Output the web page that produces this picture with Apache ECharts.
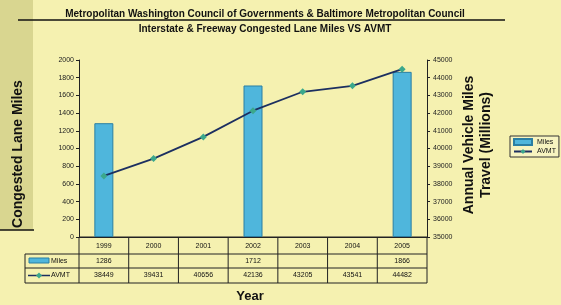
<!DOCTYPE html>
<html>
<head>
<meta charset="utf-8">
<script src="https://cdn.jsdelivr.net/npm/echarts@6/dist/echarts.min.js"></script>
<style>
  html, body { margin: 0; padding: 0; background: #f5f1b0; }
  #main { width: 561px; height: 305px; }
</style>
</head>
<body>
<div id="main"></div>
<script>
// data
var years = ['1999', '2000', '2001', '2002', '2003', '2004', '2005'];
var miles = [1286, null, null, 1712, null, null, 1866];
var avmt = [38449, 39431, 40656, 42136, 43205, 43541, 44482];

var FONT = '"Liberation Sans", Arial, sans-serif';
var GL = 79, GR = 427, GT = 60, GB = 237;

var chart = echarts.init(document.getElementById('main'));

var option = {
    backgroundColor: '#f5f1b0',
    animation: false,
    textStyle: { fontFamily: FONT },
    legend: {
        orient: 'vertical',
        left: 510, top: 136,
        padding: [2, 3],
        itemGap: 2,
        itemWidth: 18, itemHeight: 6,
        borderColor: '#333', borderWidth: 1,
        backgroundColor: '#f7f4c0',
        textStyle: { fontSize: 7, color: '#111', fontFamily: FONT },
        data: [
            { name: 'Miles', icon: 'rect' },
            { name: 'AVMT' }
        ]
    },
    grid: { left: GL, right: 561 - GR, top: GT, bottom: 305 - GB },
    xAxis: {
        type: 'category',
        data: years,
        axisLine: { lineStyle: { color: '#222' } },
        axisTick: { show: false },
        axisLabel: { show: false }
    },
    yAxis: [{
        type: 'value', min: 0, max: 2000, interval: 200,
        axisLine: { show: true, lineStyle: { color: '#222' } },
        axisTick: { show: true, length: 3, lineStyle: { color: '#222' } },
        axisLabel: { fontSize: 7, color: '#222', margin: 5, formatter: function (v) { return String(v); } },
        splitLine: { show: false }
    }, {
        type: 'value', min: 35000, max: 45000, interval: 1000,
        axisLine: { show: true, lineStyle: { color: '#222' } },
        axisTick: { show: true, length: 3, lineStyle: { color: '#222' } },
        axisLabel: { fontSize: 7, color: '#222', margin: 6, formatter: function (v) { return String(v); } },
        splitLine: { show: false }
    }],
    series: [{
        name: 'Miles',
        type: 'bar',
        data: miles,
        barWidth: 19,
        itemStyle: { color: '#4fb6dc', borderColor: '#2b7fa3', borderWidth: 1 }
    }, {
        name: 'AVMT',
        type: 'line',
        yAxisIndex: 1,
        data: avmt,
        symbol: 'diamond',
        symbolSize: 7,
        lineStyle: { color: '#1c2f60', width: 1.8 },
        itemStyle: { color: '#3ba88c' }
    }]
};
chart.setOption(option);

// titles, axis names, data table below the plot
var g = [];
g.push({ type: 'rect', shape: { x: 0, y: 0, width: 33, height: 230 }, style: { fill: '#d9d690' }, z: -10 });
g.push({ type: 'line', shape: { x1: 0, y1: 230, x2: 34, y2: 230 }, style: { stroke: '#111', lineWidth: 1.5 } });
g.push({ type: 'line', shape: { x1: 18, y1: 20, x2: 505, y2: 20 }, style: { stroke: '#111', lineWidth: 1.5 } });
g.push({ type: 'text', x: 265, y: 14, style: { text: 'Metropolitan Washington Council of Governments & Baltimore Metropolitan Council',
    font: 'bold 10px ' + FONT, fill: '#111', align: 'center', verticalAlign: 'middle' } });
g.push({ type: 'text', x: 265, y: 29, style: { text: 'Interstate & Freeway Congested Lane Miles VS AVMT',
    font: 'bold 10px ' + FONT, fill: '#111', align: 'center', verticalAlign: 'middle' } });
g.push({ type: 'text', x: 18, y: 154, rotation: Math.PI / 2, style: { text: 'Congested Lane Miles',
    font: 'bold 14px ' + FONT, fill: '#111', align: 'center', verticalAlign: 'middle' } });
g.push({ type: 'text', x: 478, y: 145, rotation: Math.PI / 2, style: { text: 'Annual Vehicle Miles\nTravel (Millions)',
    font: 'bold 14px ' + FONT, fill: '#111', align: 'center', verticalAlign: 'middle', lineHeight: 17 } });
g.push({ type: 'text', x: 250, y: 296, style: { text: 'Year',
    font: 'bold 13px ' + FONT, fill: '#111', align: 'center', verticalAlign: 'middle' } });

var rows = [GB, 254, 268, 283];
var lineStyle = { stroke: '#222', lineWidth: 1 };
g.push({ type: 'line', shape: { x1: GL, y1: rows[0], x2: GR, y2: rows[0] }, style: lineStyle });
for (var r = 1; r < rows.length; r++) {
    g.push({ type: 'line', shape: { x1: 25, y1: rows[r], x2: GR, y2: rows[r] }, style: lineStyle });
}
g.push({ type: 'line', shape: { x1: 25, y1: rows[1], x2: 25, y2: rows[3] }, style: lineStyle });
var cw = (GR - GL) / years.length;
for (var i = 0; i <= years.length; i++) {
    var xx = GL + i * cw;
    g.push({ type: 'line', shape: { x1: xx, y1: rows[0], x2: xx, y2: rows[3] }, style: lineStyle });
}
var cellFont = '7px ' + FONT;
years.forEach(function (y, i) {
    var cx = chart.convertToPixel({ xAxisIndex: 0 }, y);
    g.push({ type: 'text', x: cx, y: (rows[0] + rows[1]) / 2 + 1, style: { text: y, font: cellFont, fill: '#111', align: 'center', verticalAlign: 'middle' } });
    if (miles[i] != null) {
        g.push({ type: 'text', x: cx, y: (rows[1] + rows[2]) / 2, style: { text: String(miles[i]), font: cellFont, fill: '#111', align: 'center', verticalAlign: 'middle' } });
    }
    g.push({ type: 'text', x: cx, y: (rows[2] + rows[3]) / 2, style: { text: String(avmt[i]), font: cellFont, fill: '#111', align: 'center', verticalAlign: 'middle' } });
});
// row keys
g.push({ type: 'rect', shape: { x: 29, y: 258, width: 20, height: 5 }, style: { fill: '#4fb6dc', stroke: '#2b7fa3', lineWidth: 1 } });
g.push({ type: 'text', x: 51, y: 261, style: { text: 'Miles', font: cellFont, fill: '#111', verticalAlign: 'middle' } });
g.push({ type: 'line', shape: { x1: 28, y1: 275.5, x2: 50, y2: 275.5 }, style: { stroke: '#1c2f60', lineWidth: 1.5 } });
g.push({ type: 'polygon', shape: { points: [[39, 272.5], [42, 275.5], [39, 278.5], [36, 275.5]] }, style: { fill: '#3ba88c' } });
g.push({ type: 'text', x: 51, y: 275.5, style: { text: 'AVMT', font: cellFont, fill: '#111', verticalAlign: 'middle' } });

chart.setOption({ graphic: g });
</script>
</body>
</html>
